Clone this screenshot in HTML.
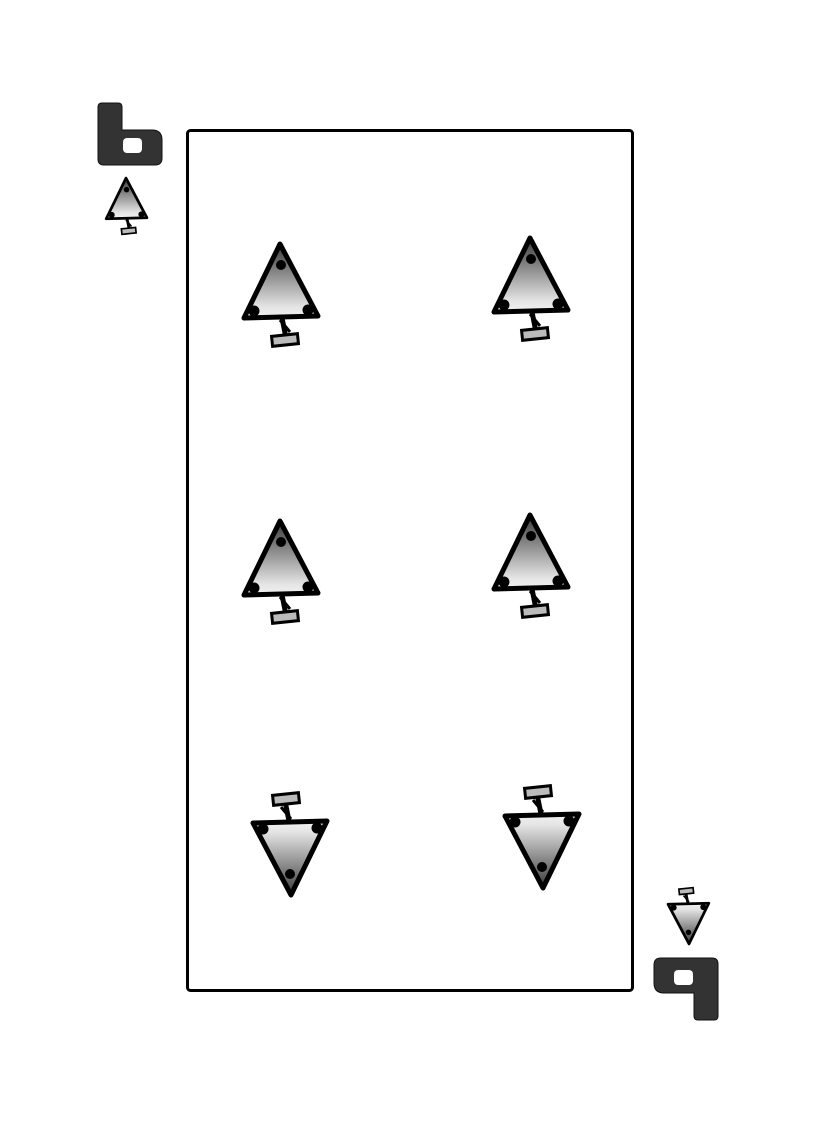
<!DOCTYPE html>
<html><head><meta charset="utf-8"><style>
html,body{margin:0;padding:0;background:#fff;}
body{width:822px;height:1122px;position:relative;overflow:hidden;}
</style></head><body>
<svg width="822" height="1122" viewBox="0 0 822 1122" xmlns="http://www.w3.org/2000/svg" style="position:absolute;left:0;top:0">
<defs>
<linearGradient id="g" x1="0" y1="0" x2="0" y2="1">
<stop offset="0" stop-color="#3a3a3a"/><stop offset="0.85" stop-color="#e4e4e4"/><stop offset="1" stop-color="#f2f2f2"/>
</linearGradient>
<g id="t">
<line x1="2" y1="76" x2="6" y2="96" stroke="#000" stroke-width="5"/>
<line x1="0" y1="78" x2="10" y2="90" stroke="#000" stroke-width="3"/>
<rect x="-8" y="93" width="26" height="10" fill="#bbb" stroke="#000" stroke-width="3" transform="rotate(-6 5 98)"/>
<polygon points="0,2 -36,76 38,74" fill="url(#g)" stroke="#000" stroke-width="5" stroke-linejoin="round"/>
<circle cx="1" cy="23" r="5" fill="#000"/>
<circle cx="-26" cy="69" r="5.5" fill="#000"/>
<circle cx="28" cy="68" r="5.5" fill="#000"/>
</g>
<g id="six">
<path d="M0,4 Q0,0 4,0 L20,0 Q24,0 24,4 L24,27 L54,27 Q64,27 64,37 L64,55 Q64,62 57,62 L6,62 Q0,62 0,56 Z" fill="#333" stroke="#111" stroke-width="1"/>
<rect x="25" y="35" width="19" height="15" rx="4" fill="#fff"/>
</g>
</defs>
<rect x="187.5" y="130.5" width="445" height="860" rx="3" fill="none" stroke="#000" stroke-width="3"/>
<use href="#six" transform="translate(98,103)"/>
<use href="#six" transform="translate(718,1020) rotate(180)"/>
<use href="#t" transform="translate(126,177) scale(0.55)"/>
<use href="#t" transform="translate(689,945) rotate(180) scale(0.55)"/>
<use href="#t" transform="translate(280,242)"/>
<use href="#t" transform="translate(530,236)"/>
<use href="#t" transform="translate(280,519)"/>
<use href="#t" transform="translate(530,513)"/>
<use href="#t" transform="translate(291,897) rotate(180)"/>
<use href="#t" transform="translate(543,890) rotate(180)"/>
</svg>
</body></html>
